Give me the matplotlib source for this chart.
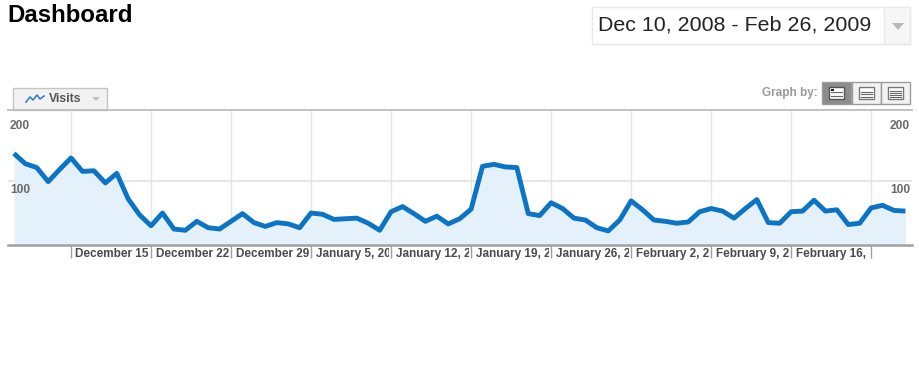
import matplotlib
matplotlib.use("Agg")
import matplotlib.pyplot as plt
import matplotlib.dates as mdates
import matplotlib.transforms as mtransforms
from matplotlib.patches import Rectangle, Polygon
import numpy as np
import pandas as pd

plt.rcParams['font.family'] = ['Liberation Sans', 'DejaVu Sans']

# ---- data ----
start_date = "2008-12-10"
end_date = "2009-02-26"
visits = [143, 127, 121, 99, 118, 136, 115, 116, 97, 112,
          72, 47, 30, 50, 25, 23, 37, 27, 25, 37,
          49, 35, 29, 35, 33, 27, 50, 48, 40, 41,
          42, 34, 23, 52, 60, 49, 37, 45, 33, 41,
          56, 123, 126, 122, 121, 49, 46, 66, 57, 42,
          39, 27, 22, 39, 69, 55, 39, 37, 34, 36,
          52, 57, 53, 42, 57, 71, 35, 34, 52, 53,
          70, 53, 55, 32, 34, 58, 62, 54, 53]
week_ticks = ["2008-12-15", "2008-12-22", "2008-12-29", "2009-01-05", "2009-01-12",
              "2009-01-19", "2009-01-26", "2009-02-02", "2009-02-09", "2009-02-16",
              "2009-02-23"]
week_labels = ["December 15", "December 22", "December 29", "January 5, 20",
               "January 12, 2", "January 19, 2", "January 26, 2",
               "February 2, 2", "February 9, 2", "February 16,", ""]
y_labels = [200, 100]
title = "Dashboard"
date_range = "Dec 10, 2008 - Feb 26, 2009"
metric = "Visits"

dates = pd.date_range(start_date, end_date, freq="D")
xd = mdates.date2num(dates.to_pydatetime())
ticks = mdates.date2num(pd.to_datetime(week_ticks).to_pydatetime())

W, H = 920, 384
fig = plt.figure(figsize=(W / 100, H / 100), dpi=100)
fig.patch.set_facecolor("white")

# overlay axes in pixel coordinates for UI chrome
ui = fig.add_axes([0, 0, 1, 1])
ui.set_xlim(0, W)
ui.set_ylim(H, 0)
ui.axis("off")

# main chart axes (pixels: x 8..912, y 110..245)
L, R, T, B = 8, 912, 110, 245
ax = fig.add_axes([L / W, (H - B) / H, (R - L) / W, (B - T) / H])
ax.set_facecolor("none")
day_px = 11.43
x0_px = 13.9
ax.set_xlim(xd[0] - (x0_px - L) / day_px, xd[0] + (R - x0_px) / day_px)
ax.set_ylim(0, (B - T) / 0.64)

blue = "#0B74C4"
ax.fill_between(xd, visits, 0, color="#E4F0FA", zorder=1, linewidth=0)
ax.plot(xd, visits, color=blue, lw=3.5, solid_joinstyle="round",
        solid_capstyle="butt", zorder=3)

# grid
for t in ticks:
    ax.axvline(t, color="#E6E6E6", lw=1, zorder=0.5)
ax.axhline(100, color="#E2E2E2", lw=1.2, zorder=0.5)

for s in ["left", "right"]:
    ax.spines[s].set_visible(False)
ax.spines["top"].set_color("#BDBDBD")
ax.spines["top"].set_linewidth(1.3)
ax.spines["bottom"].set_color("#A0A0A0")
ax.spines["bottom"].set_linewidth(1.8)
ax.set_yticks([])
ax.set_xticks(ticks)
ax.set_xticklabels([])
ax.tick_params(axis="x", length=9.5, width=1, color="#A0A0A0", direction="out")

# tick labels, clipped to week width
trans = mtransforms.blended_transform_factory(ax.transData, ax.transAxes)
for i, (t, lab) in enumerate(zip(ticks, week_labels)):
    if not lab:
        continue
    nxt = ticks[i + 1] if i + 1 < len(ticks) else t + 7
    clip = Rectangle((t, -0.5), nxt - t - 0.15, 0.5, transform=trans, visible=False)
    fig.add_artist(clip)
    txt = ax.annotate(lab, xy=(t, 0), xycoords=trans, xytext=(3.2, -6.5),
                      textcoords="offset points", ha="left", va="center",
                      fontsize=8.5, fontweight="bold", color="#4A4A4A",
                      annotation_clip=False)
    txt.set_clip_on(True)
    txt.set_clip_path(clip)

# y labels inside plot
ytr_l = mtransforms.blended_transform_factory(ax.transAxes, ax.transData)
for v in y_labels:
    ax.annotate(str(v), xy=(0, v), xycoords=ytr_l, xytext=(1.5, -2.5),
                textcoords="offset points", ha="left", va="top",
                fontsize=8.6, fontweight="bold", color="#6A6A6A")
    ax.annotate(str(v), xy=(1, v), xycoords=ytr_l, xytext=(-1.5, -2.5),
                textcoords="offset points", ha="right", va="top",
                fontsize=8.6, fontweight="bold", color="#6A6A6A")

# ---- UI chrome ----
ui.text(7, 16, title, fontsize=17.3, fontweight="bold", color="black",
        ha="left", va="center")

# date range box
ui.add_patch(Rectangle((592, 7), 318, 37, facecolor="white", edgecolor="#E8E8E8", lw=1))
ui.add_patch(Rectangle((884, 7), 26, 37, facecolor="#F6F6F6", edgecolor="#E8E8E8", lw=1))
ui.text(598, 25, date_range, fontsize=15.4, color="#222222", ha="left", va="center")
ui.add_patch(Polygon([[892, 23], [904, 23], [898, 30]], closed=True,
                     facecolor="#B8B8B8", edgecolor="none"))

# Visits tab
ui.add_patch(Rectangle((13, 88), 94, 22, facecolor="#F2F2F2", edgecolor="#C4C4C4", lw=1))
ui.plot([26, 30, 33, 37, 40, 44], [102, 97, 100, 95, 99, 96], color="#3A7FD0", lw=1.2)
ui.text(49, 99, metric, fontsize=8.8, fontweight="bold", color="#555555",
        ha="left", va="center")
ui.add_patch(Polygon([[92, 97], [100, 97], [96, 101]], closed=True,
                     facecolor="#C0C0C0", edgecolor="none"))

# Graph by
ui.text(818, 93, "Graph by:", fontsize=8.5, fontweight="bold", color="#9A9A9A",
        ha="right", va="center")
btn_x = [822, 852, 881]
for i, bx in enumerate(btn_x):
    sel = i == 0
    ui.add_patch(Rectangle((bx, 82), 29, 22, facecolor="#8C8C8C" if sel else "#F2F2F2",
                           edgecolor="#9C9C9C", lw=1))
    ui.add_patch(Rectangle((bx + 7, 87), 15, 12, facecolor="white",
                           edgecolor="#555555" if sel else "#777777", lw=1))
    n = [2, 3, 4][i]
    for k in range(n):
        yy = 89 + (k + 1) * 10 / (n + 1)
        ui.plot([bx + 9, bx + 20], [yy, yy], color="#666666", lw=0.8)
ui.add_patch(Rectangle((831, 89), 3, 2, facecolor="#222222", edgecolor="none"))

fig.savefig("out.png", dpi=100, facecolor="white")
